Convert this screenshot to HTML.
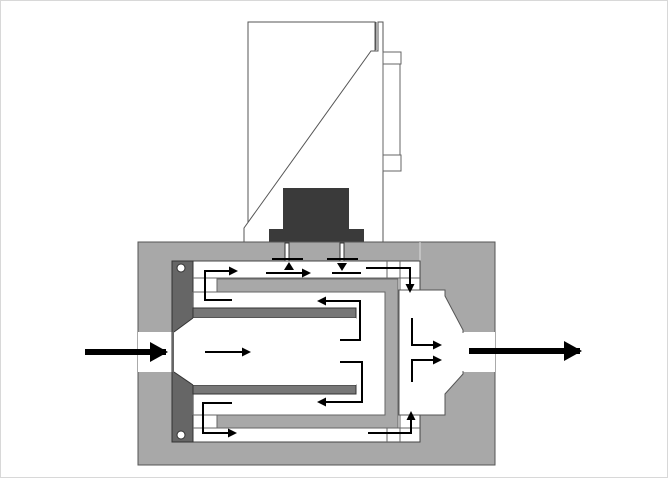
<!DOCTYPE html>
<html><head><style>html,body{margin:0;padding:0;background:#fff}svg{display:block}</style></head>
<body>
<svg width="668" height="478" viewBox="0 0 668 478" xmlns="http://www.w3.org/2000/svg">
<defs>
<marker id="a" markerWidth="10" markerHeight="10" refX="7" refY="4.5" orient="auto" markerUnits="userSpaceOnUse"><path d="M0,0 L9,4.5 L0,9 z" fill="#000"/></marker>
<marker id="b" markerWidth="20" markerHeight="22" refX="16" refY="10" orient="auto" markerUnits="userSpaceOnUse"><path d="M0,0 L18,10 L0,20 z" fill="#000"/></marker>
</defs>
<rect x="0.5" y="0.5" width="667" height="477" fill="#fff" stroke="#d8d8d8"/>
<rect x="248" y="22" width="127" height="220" fill="#fff" stroke="#555" stroke-width="1"/>
<polygon points="371,51 378,51 378,22 383,22 383,242 244,242 244,228" fill="#fff" stroke="#555"/>
<line x1="376" y1="22" x2="376" y2="50" stroke="#555"/>
<rect x="383" y="52" width="18" height="12" fill="#fff" stroke="#666"/>
<rect x="383" y="155" width="18" height="16" fill="#fff" stroke="#666"/>
<rect x="383" y="64" width="17" height="91" fill="#fff" stroke="#666"/>
<rect x="283" y="188" width="66" height="42" fill="#3a3a3a"/>
<rect x="269" y="229" width="95" height="14" fill="#3a3a3a"/>
<rect x="138" y="242" width="357" height="223" fill="#a8a8a8" stroke="#555"/>
<line x1="420" y1="242" x2="420" y2="295" stroke="#ddd"/>
<rect x="138" y="332" width="36" height="40" fill="#fff"/>
<rect x="460" y="332" width="35" height="40" fill="#fff"/>
<rect x="285" y="243" width="4" height="20" fill="#fff" stroke="#333"/>
<rect x="340" y="243" width="4" height="20" fill="#fff" stroke="#333"/>
<rect x="193" y="261" width="227" height="181" fill="#fff" stroke="#444"/>
<rect x="172" y="261" width="21" height="181" fill="#666" stroke="#333"/>
<circle cx="181" cy="268" r="4" fill="#fff" stroke="#333"/>
<circle cx="181" cy="435" r="4" fill="#fff" stroke="#333"/>
<line x1="193" y1="278" x2="420" y2="278" stroke="#666"/>
<line x1="193" y1="292" x2="218" y2="292" stroke="#666"/>
<line x1="193" y1="415" x2="218" y2="415" stroke="#666"/>
<line x1="193" y1="428" x2="420" y2="428" stroke="#666"/>
<line x1="387" y1="261" x2="387" y2="442" stroke="#666"/>
<line x1="400" y1="261" x2="400" y2="442" stroke="#666"/>
<path d="M217,279 H398 V428 H217 V415 H385 V292 H217 z" fill="#a8a8a8" stroke="#666"/>
<polygon points="193,292 193,308 356,308 356,318 193,318 172,332 172,372 193,385 356,385 356,393 193,393 193,415 174,415 174,292" fill="#666"/>
<rect x="193" y="308" width="163" height="10" fill="#777" stroke="#333"/>
<rect x="193" y="385" width="163" height="9" fill="#777" stroke="#333"/>
<polygon points="193,318 356,318 356,385 193,385 174,372 174,332" fill="#fff"/>
<line x1="193" y1="318" x2="174" y2="332" stroke="#333"/>
<line x1="193" y1="385" x2="174" y2="372" stroke="#333"/>
<polygon points="399,290 445,290 445,296 463,330 463,374 445,394 445,415 399,415" fill="#fff" stroke="#555"/>
<rect x="462" y="333" width="4" height="38" fill="#fff"/>
<g stroke="#000" stroke-width="2" fill="none">
<path d="M232,300 H205 V271 H236" marker-end="url(#a)"/>
<path d="M266,273 H309" marker-end="url(#a)"/>
<line x1="272" y1="259" x2="303" y2="259"/>
<line x1="327" y1="259" x2="358" y2="259"/>
<line x1="332" y1="273" x2="361" y2="273"/>
<path d="M366,268 H410 V291" marker-end="url(#a)"/>
<path d="M205,352 H249" marker-end="url(#a)"/>
<path d="M340,340 H360 V301 H319" marker-end="url(#a)"/>
<path d="M340,362 H362 V402 H319" marker-end="url(#a)"/>
<path d="M232,403 H203 V433 H235" marker-end="url(#a)"/>
<path d="M368,433 H411 V413" marker-end="url(#a)"/>
<path d="M412,318 V345 H440" marker-end="url(#a)"/>
<path d="M412,382 V360 H440" marker-end="url(#a)"/>
</g>
<polygon points="284,270 289,262 294,270" fill="#000"/>
<polygon points="337,263 342,271 347,263" fill="#000"/>
<line x1="85" y1="352" x2="166" y2="352" stroke="#000" stroke-width="6" marker-end="url(#b)"/>
<line x1="469" y1="351" x2="580" y2="351" stroke="#000" stroke-width="6" marker-end="url(#b)"/>
</svg>
</body></html>
